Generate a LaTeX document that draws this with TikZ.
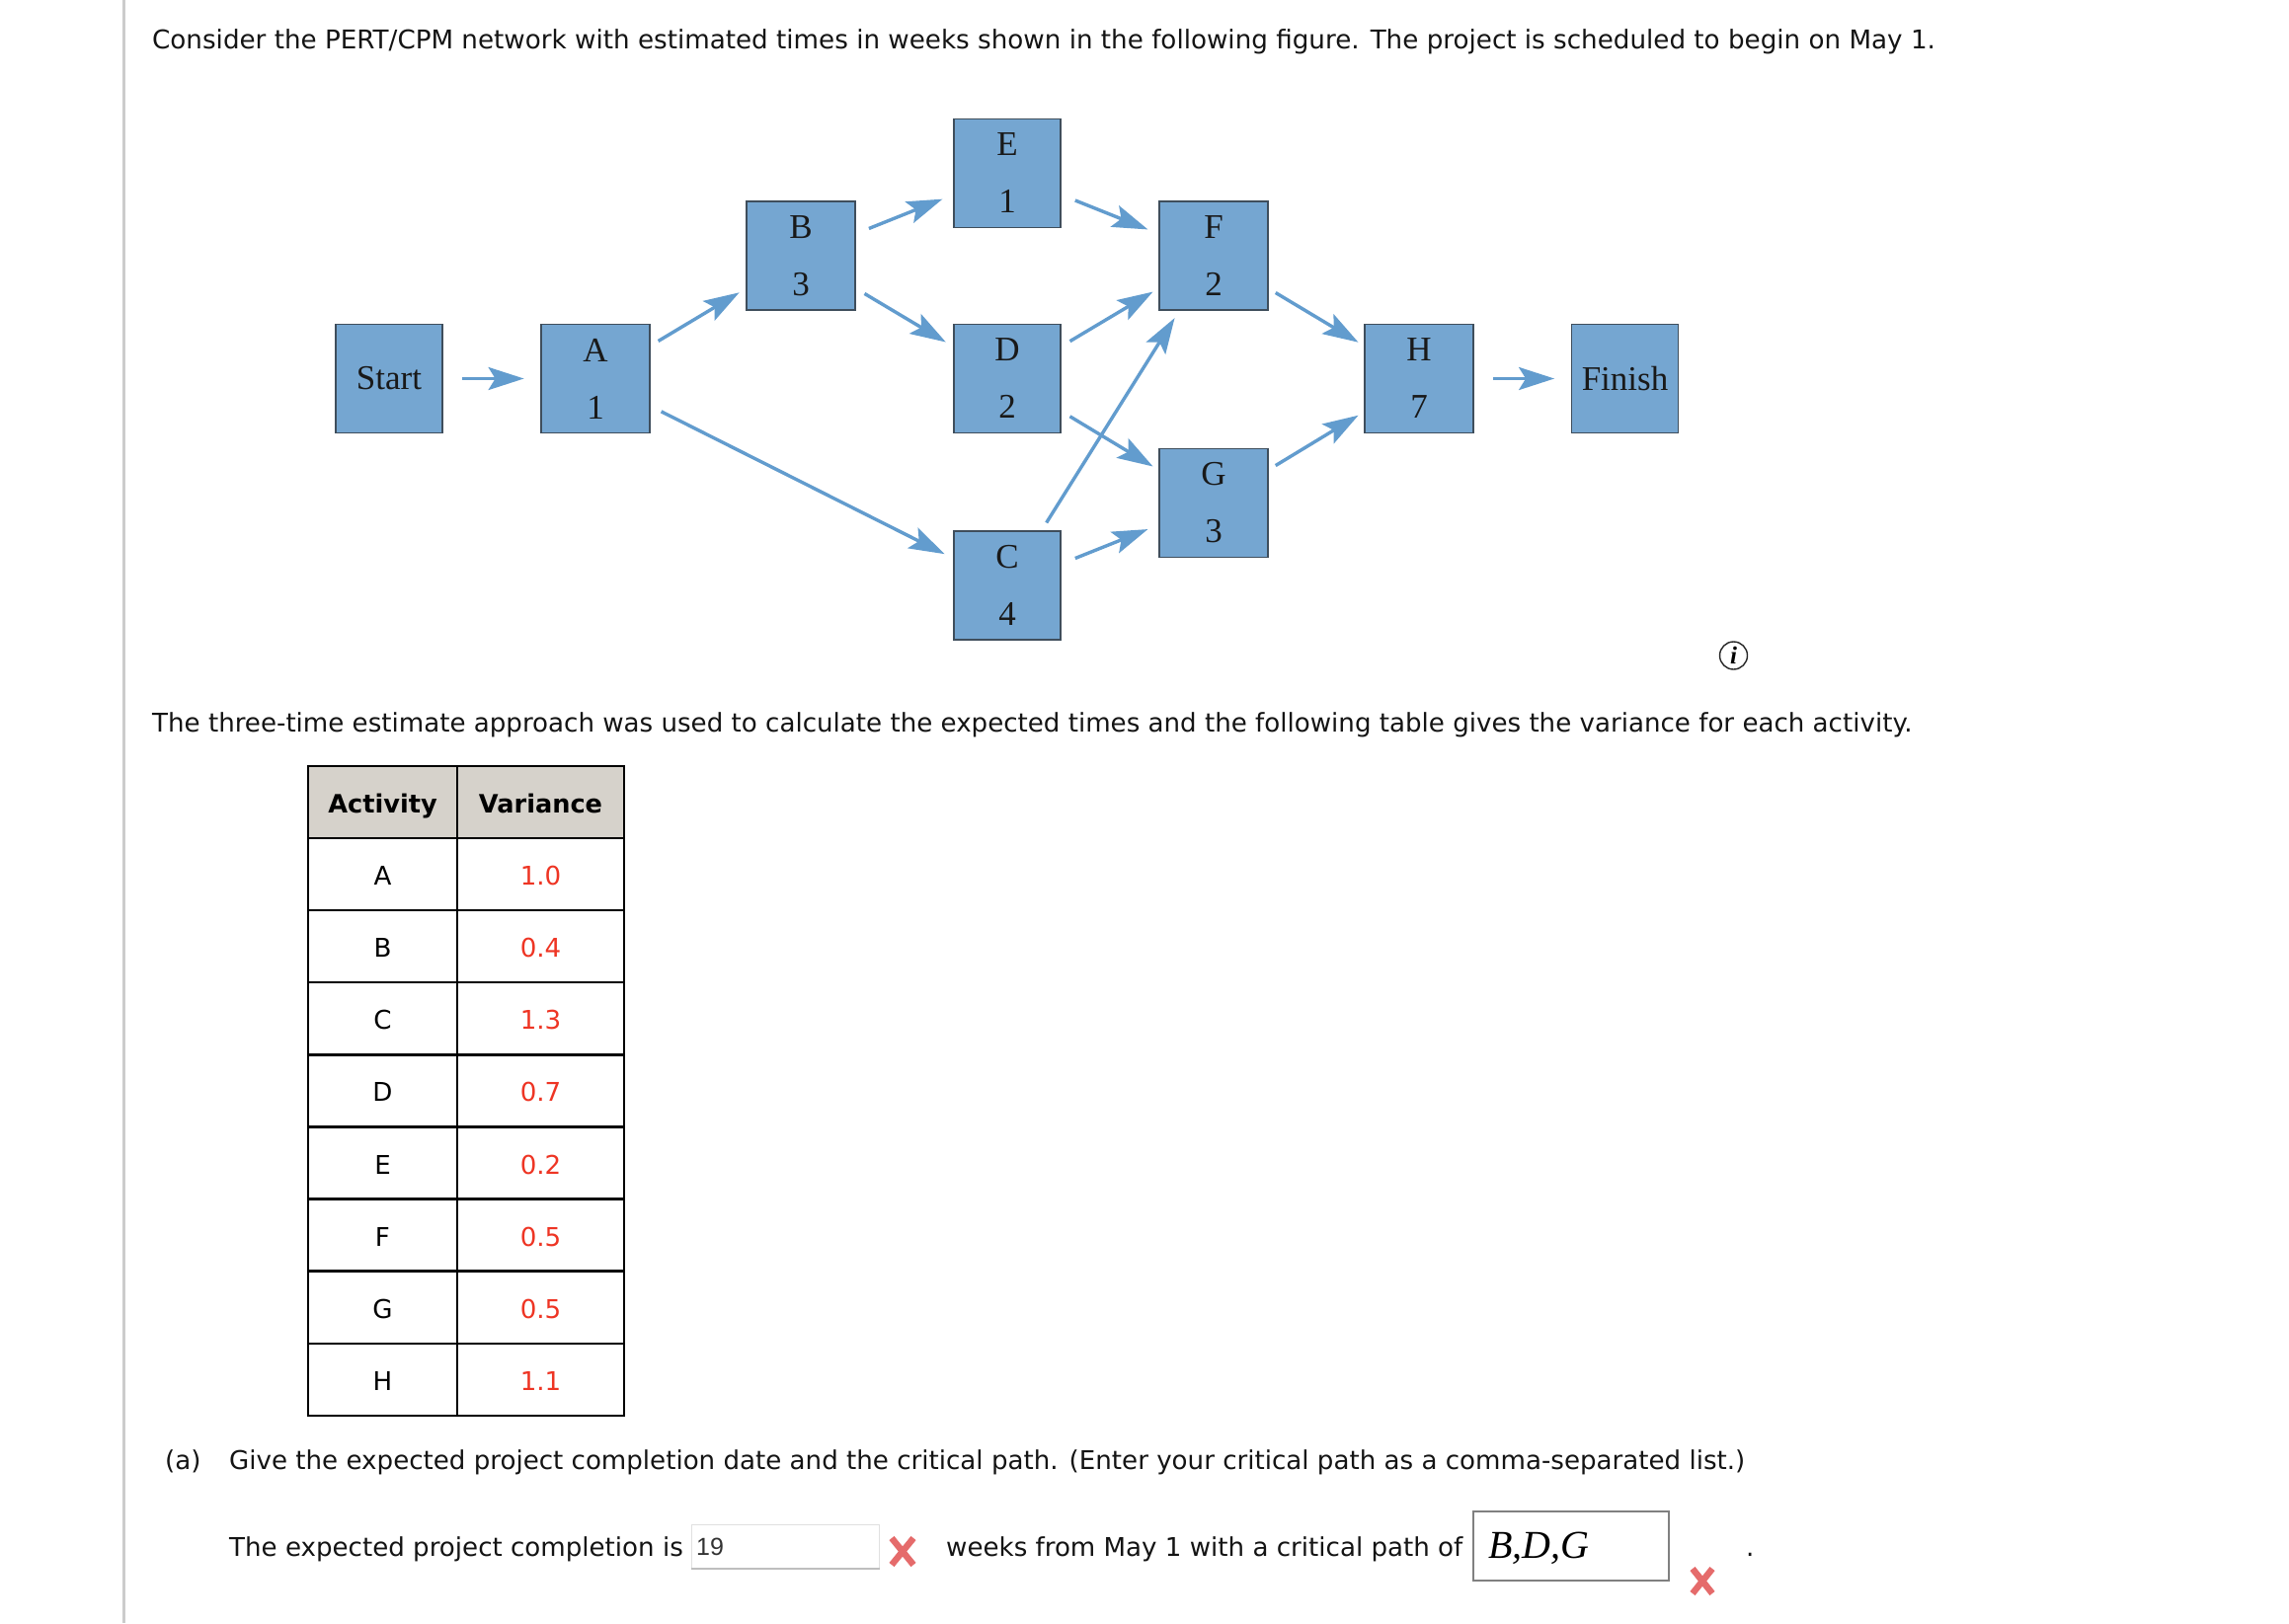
\documentclass[tikz,border=0pt]{standalone}
\usepackage{fontspec}
\setmainfont{DejaVu Sans}
\newfontfamily\boxfont{Liberation Serif}
\newfontfamily\inputfont{Liberation Sans}
\usetikzlibrary{arrows.meta}
\definecolor{boxfill}{HTML}{75A6D1}
\definecolor{boxedge}{HTML}{3F4E5C}
\definecolor{linkcol}{HTML}{629CCE}
\definecolor{headfill}{HTML}{D6D2CB}
\definecolor{answerred}{HTML}{EE3524}
\definecolor{crosscol}{HTML}{E56B6B}
\definecolor{rulegray}{HTML}{CCCCCC}
\tikzset{
  act/.style={draw=boxedge,line width=1.8pt,fill=boxfill,minimum width=108pt,minimum height=110pt,inner sep=0pt,align=center,text=black!90,font=\boxfont\fontsize{35}{58}\selectfont},
  wideact/.style={act,minimum width=110pt},
  link/.style 2 args={draw=linkcol,line width=3.4pt,-{Stealth[length=36pt,width=23pt,inset=7pt]},shorten <=#1,shorten >=#2},
  bodytext/.style={anchor=base west,inner sep=0pt,text=black!92,font=\fontsize{26.1}{32}\selectfont},
  cell/.style={draw=black,line width=2.4pt,inner sep=0pt,minimum height=73.1pt,text height=22pt,text depth=0pt,font=\fontsize{26.1}{32}\selectfont},
  headcell/.style={cell,fill=headfill,font=\bfseries\fontsize{25.6}{32}\selectfont},
  crossmark/.style={draw=crosscol,line width=6.5pt}
}
\begin{document}
\begin{tikzpicture}[x=1pt,y=-1pt]
\useasboundingbox (0,0) rectangle (2318,1644);
\fill[white] (0,0) rectangle (2318,1644);
\fill[rulegray] (123.5,0) rectangle (126.5,1644);

\node[bodytext,font=\fontsize{26.18}{32}\selectfont] (t1) at (154,49) {Consider the PERT/CPM network with estimated times in weeks shown in the following figure. The project is scheduled to begin on May 1.};

\node[act] (Start) at (394,383.5) {Start};
\node[wideact] (A) at (603,383.5) {A\\1};
\node[wideact] (B) at (811,259) {B\\3};
\node[act] (E) at (1020,175.5) {E\\1};
\node[act] (D) at (1020,383.5) {D\\2};
\node[act] (C) at (1020,593) {C\\4};
\node[wideact] (F) at (1229,259) {F\\2};
\node[wideact] (G) at (1229,509.5) {G\\3};
\node[wideact] (H) at (1437,383.5) {H\\7};
\node[act] (Finish) at (1645.5,383.5) {Finish};

\draw[link={19pt}{16.5pt}] (Start) -- (A);
\draw[link={9pt}{7.5pt}] (A) -- (B);
\draw[link={12pt}{9.5pt}] (A) -- (C);
\draw[link={14pt}{11.5pt}] (B) -- (E);
\draw[link={10pt}{8.5pt}] (B) -- (D);
\draw[link={15pt}{11.5pt}] (E) -- (F);
\draw[link={10pt}{6.5pt}] (D) -- (F);
\draw[link={10pt}{6.5pt}] (D) -- (G);
\draw[link={9pt}{8.5pt}] (C) -- (F);
\draw[link={15pt}{11.5pt}] (C) -- (G);
\draw[link={8pt}{6.5pt}] (F) -- (H);
\draw[link={8pt}{6.5pt}] (G) -- (H);
\draw[link={19pt}{16.5pt}] (H) -- (Finish);

\node[circle,draw=black!85,line width=1.4pt,minimum size=28pt,inner sep=0pt,font=\boxfont\bfseries\itshape\fontsize{25}{25}\selectfont] (info) at (1755.5,664) {i};

\node[bodytext] (t2) at (154,741) {The three-time estimate approach was used to calculate the expected times and the following table gives the variance for each activity.};

\node[headcell,minimum width=151pt] (h1) at (387.5,812.5) {Activity};
\node[headcell,minimum width=169pt] (h2) at (547.5,812.5) {Variance};
\foreach \n/\a/\v in {1/A/1.0,2/B/0.4,3/C/1.3,4/D/0.7,5/E/0.2,6/F/0.5,7/G/0.5,8/H/1.1}{
  \node[cell,minimum width=151pt] (a\n) at (387.5,812.5+73.1*\n) {\a};
  \node[cell,minimum width=169pt,text=answerred] (v\n) at (547.5,812.5+73.1*\n) {\v};
}

\node[bodytext] (alabel) at (167,1488.5) {(a)};
\node[bodytext] (t3) at (232,1488.5) {Give the expected project completion date and the critical path. (Enter your critical path as a comma-separated list.)};
\node[bodytext] (t4) at (232,1576.5) {The expected project completion is};
\node[draw=black!12,fill=white,line width=1pt,minimum width=190pt,minimum height=44pt,inner sep=0pt] (input) at (795,1566) {};
\draw[black!25,line width=2pt] (input.south west) -- (input.south east);
\node[anchor=base west,inner sep=0pt,text=black!80,font=\inputfont\fontsize{25}{30}\selectfont] (val) at (705,1575.5) {19};
\draw[crossmark] (903,1558) -- (925,1585) (925,1558) -- (903,1585);
\node[bodytext] (t5) at (958,1576.5) {weeks from May 1 with a critical path of};
\node[draw=black!50,line width=2pt,minimum width=198pt,minimum height=70pt,inner sep=0pt] (pathbox) at (1591,1566) {};
\node[anchor=base west,inner sep=0pt,font=\boxfont\itshape\fontsize{40}{44}\selectfont] (pathval) at (1507,1578.5) {B,D,G};
\draw[crossmark] (1714,1589) -- (1734,1614) (1734,1589) -- (1714,1614);
\node[bodytext] (dot) at (1768,1576.5) {.};
\end{tikzpicture}
\end{document}
